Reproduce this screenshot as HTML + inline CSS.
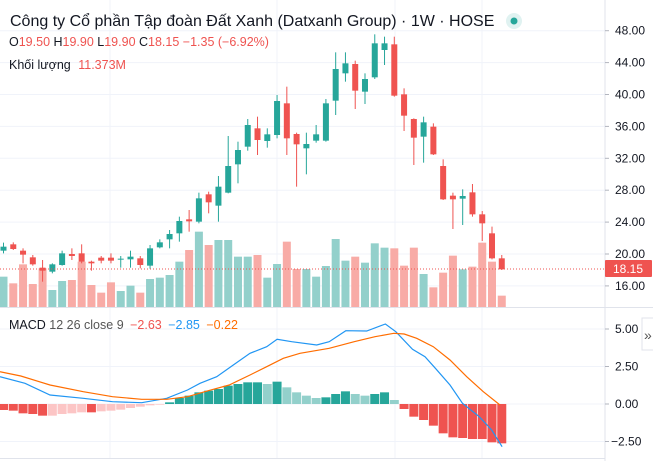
<!DOCTYPE html>
<html><head><meta charset="utf-8"><style>
body{margin:0;background:#fff;width:653px;height:461px;overflow:hidden;font-family:"Liberation Sans",sans-serif}
svg{display:block}
</style></head><body>
<svg id="s" width="653" height="461" xmlns="http://www.w3.org/2000/svg" font-family="Liberation Sans, sans-serif">
<rect width="653" height="461" fill="#fff"/>
<g id="grid" stroke="#f0f3fa" stroke-width="1"></g>
<g id="vol"></g><g id="cdl"></g><g id="hist"></g><g id="lines"></g>
<line x1="0" y1="269" x2="605" y2="269" stroke="#ef5350" stroke-width="1" stroke-dasharray="1,2"/>
<line x1="605" y1="0" x2="605" y2="461" stroke="#e0e3eb"/>
<line x1="0" y1="307.5" x2="653" y2="307.5" stroke="#e0e3eb"/>
<line x1="0" y1="458.5" x2="605" y2="458.5" stroke="#e0e3eb"/>
<g id="ax" font-size="12" fill="#131722"></g>
<rect x="605" y="260" width="47" height="17" fill="#ef5350" rx="1"/>
<text x="628" y="273" font-size="12" fill="#fff" text-anchor="middle">18.15</text>
<rect x="642" y="318" width="14" height="32" fill="#fff" stroke="#e0e3eb"/>
<text x="644" y="340" font-size="14" fill="#555">»</text>
<text x="10" y="26" font-size="16" fill="#131722">Công ty Cổ phần Tập đoàn Đất Xanh (Datxanh Group) · 1W · HOSE</text>
<circle cx="514" cy="21" r="8" fill="#e0f2f1"/><circle cx="514" cy="21" r="3.5" fill="#26a69a"/>
<text x="9" y="46" font-size="12.5" fill="#131722">O<tspan fill="#ef5350">19.50</tspan> H<tspan fill="#ef5350">19.90</tspan> L<tspan fill="#ef5350">19.90</tspan> C<tspan fill="#ef5350">18.15 −1.35 (−6.92%)</tspan></text>
<text x="9" y="69" font-size="12.5" fill="#131722">Khối lượng <tspan fill="#ef5350" dx="4">11.373M</tspan></text>
<text x="9" y="329" font-size="12.5" fill="#131722">MACD <tspan fill="#555">12 26 close 9</tspan> <tspan fill="#ef5350" dx="3">−2.63</tspan> <tspan fill="#2196f3" dx="3">−2.85</tspan> <tspan fill="#ff6d00" dx="3">−0.22</tspan></text>
</svg>
<script>
const NS="http://www.w3.org/2000/svg";
function el(p,t,a){const e=document.createElementNS(NS,t);for(const k in a)e.setAttribute(k,a[k]);document.getElementById(p).appendChild(e);return e;}
const G="#26a69a",R="#ef5350",GL="#93d0cb",RL="#f8aba6";
[30.7,62.6,94.5,126.4,158.3,190.2,222.1,254,285.9].forEach(y=>el("grid","line",{x1:0,x2:605,y1:y,y2:y}));
[329,366.5,404,441.5].forEach(y=>el("grid","line",{x1:0,x2:605,y1:y,y2:y}));
[110,277,395,482].forEach(x=>el("grid","line",{x1:x,x2:x,y1:0,y2:458}));
const pl=["48.00","44.00","40.00","36.00","32.00","28.00","24.00","20.00","16.00"];
pl.forEach((t,i)=>{const y=30.7+i*31.9;const e=el("ax","text",{x:615,y:y+4});e.textContent=t;el("ax","line",{x1:605,x2:609,y1:y,y2:y,stroke:"#b2b5be"});});
[["5.00",329,615],["2.50",366.5,615],["0.00",404,615],["−2.50",441.5,611]].forEach(a=>{const e=el("ax","text",{x:a[2],y:a[1]+4});e.textContent=a[0];el("ax","line",{x1:605,x2:609,y1:a[1],y2:a[1],stroke:"#b2b5be"});});
const C=[
["g",740,752,728,760],["r",733,747,727,750],["r",752,764,745,790],["r",772,793,765,797],["r",803,812,780,845],
["g",793,815,790,820],["g",760,795,752,797],["r",762,768,745,780],["r",760,785,733,790],["r",785,790,782,812],
["r",773,782,768,790],["r",773,782,760,790],["g",776,779,768,803],["g",770,778,752,803],["r",775,795,768,805],
["g",745,797,735,806],["g",727,742,718,745],["g",702,718,690,745],["g",663,700,650,725],["r",658,664,630,695],
["g",595,665,578,670],["r",583,607,575,640],["g",560,617,528,665],["g",498,578,408,580],["g",450,493,425,550],
["g",375,440,357,452],["r",385,420,350,465],["g",403,423,385,443],["g",303,405,285,415],["r",310,415,260,465],
["r",402,433,398,560],["g",432,445,398,523],["g",403,422,375,428],["g",310,422,297,425],["g",207,302,157,345],
["g",190,220,157,245],["r",192,272,182,327],["g",237,275,220,312],["g",130,232,103,237],["g",130,150,110,195],
["r",133,287,110,290],["r",283,347,265,393],["r",357,413,355,495],["g",367,410,350,488],["r",380,463,370,465],
["r",498,598,478,600],["r",587,598,578,687],["g",588,596,568,675],["r",577,643,552,650],["r",643,670,633,723],
["r",700,775,680,778],["r",775,808,765,810]];
const V=[830,850,793,852,805,870,843,840,785,855,878,847,873,857,878,837,833,825,785,750,695,735,720,720,770,770,765,833,792,725,807,807,830,798,717,782,770,788,730,743,745,797,743,822,862,818,767,808,800,728,785,887];
function X(i){return 3.5+i*9.77;}
C.forEach((c,i)=>{const x=X(i),col=c[0]=="g"?G:R;
 const vcol=(c[0]=="g")?GL:RL;
 el("vol","rect",{x:x-4,y:V[i]/3,width:8,height:307-V[i]/3,fill:vcol});
 el("cdl","line",{x1:x,x2:x,y1:c[3]/3,y2:c[4]/3,stroke:col,"stroke-width":1});
 el("cdl","rect",{x:x-3,y:c[1]/3,width:6,height:Math.max(1,(c[2]-c[1])/3),fill:col});
});
const H=[-18,-20,-28,-30,-35,-35,-30,-28,-25,-25,-22,-20,-17,-12,-8,-4,-2,5,18,25,35,40,45,55,60,65,65,60,67,50,35,25,18,20,30,38,30,25,30,35,12,-15,-38,-48,-65,-88,-100,-102,-105,-105,-115,-118];
H.forEach((h,i)=>{const x=X(i);let col;
 if(h>=0){col=(i>0&&h>=H[i-1])?G:GL;} else {col=(i>0&&h<=H[i-1])?R:"#fcc5c5";}
 if(i<5&&h<0)col=R;
 if(i==5)col="#fcc5c5";
 const y0=404,hh=h/3;
 el("hist","rect",{x:x-4.5,y:hh>0?y0-hh:y0,width:9,height:Math.abs(hh),fill:col});
});
function line(pts,col){const d=pts.map((p,i)=>(i?"L":"M")+(p[0]/2.4).toFixed(1)+","+(300+p[1]/3).toFixed(1)).join("");el("lines","path",{d:d,fill:"none",stroke:col,"stroke-width":1.2});}
line([[0,230],[60,250],[120,285],[200,295],[270,305],[340,308],[400,295],[450,270],[480,250],[520,230],[560,195],[600,160],[640,140],[665,118],[700,125],[760,135],[790,125],[830,92],[880,93],[925,72],[950,95],[990,148],[1020,170],[1045,205],[1080,255],[1110,310],[1150,350],[1180,390],[1205,440]],"#2196f3");
line([[0,215],[50,228],[120,255],[200,275],[270,290],[340,298],[400,298],[450,290],[500,272],[550,255],[600,225],[640,200],[680,175],[720,160],[790,145],[850,125],[900,110],[945,100],[970,102],[1000,115],[1040,140],[1080,180],[1120,230],[1160,275],[1200,315]],"#ff6d00");
</script>
</body></html>
